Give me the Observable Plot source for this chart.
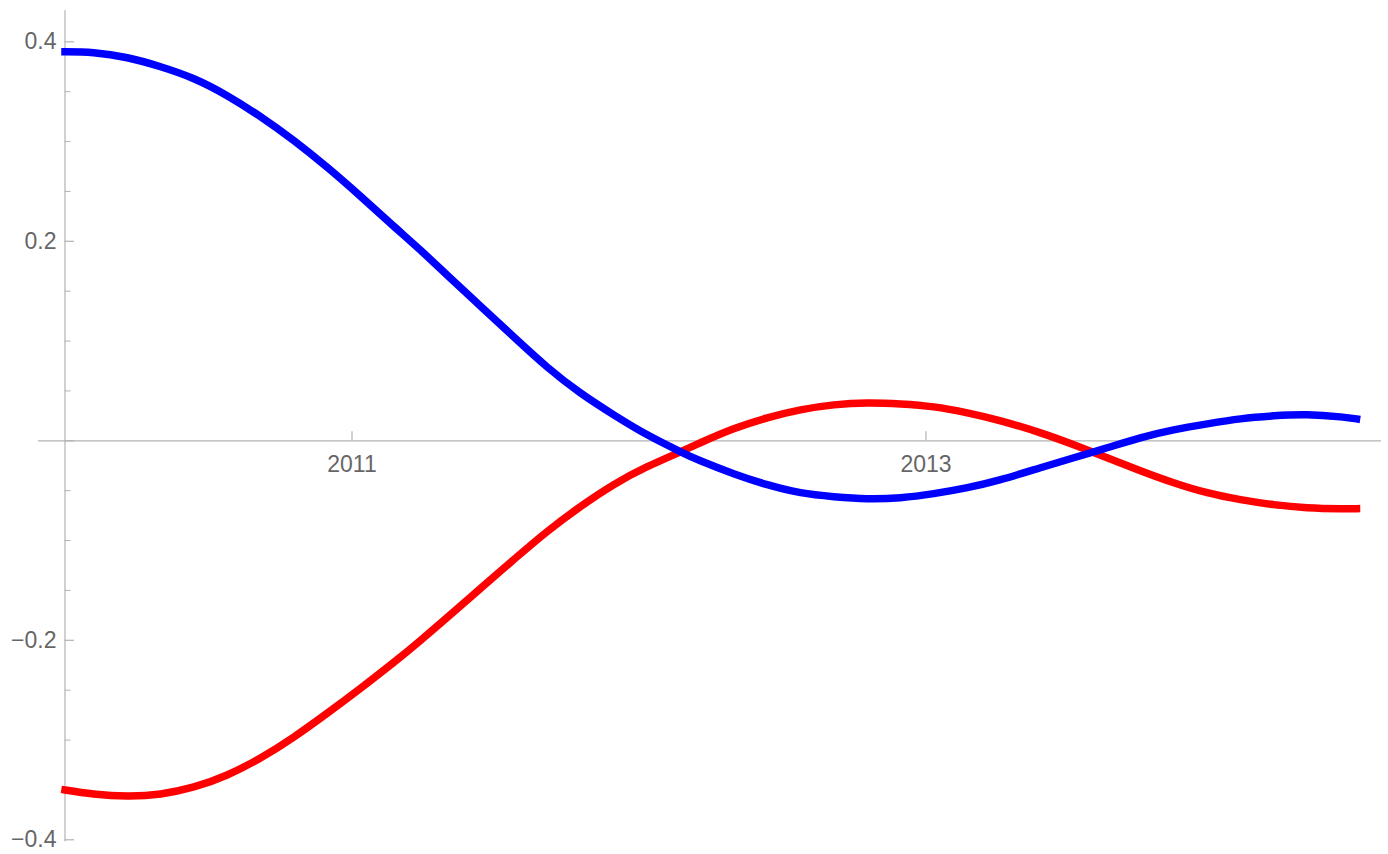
<!DOCTYPE html>
<html>
<head>
<meta charset="utf-8">
<script src="https://cdn.jsdelivr.net/npm/d3@7"></script>
<script src="https://cdn.jsdelivr.net/npm/@observablehq/plot@0.6"></script>
<style>
  html, body { margin: 0; padding: 0; background: #ffffff; }
  #chart svg { display: block; overflow: visible; }
</style>
</head>
<body>
<div id="chart"></div>
<script>
// ---- Data ----
const years = [2010, 2010.100, 2010.217, 2010.333, 2010.449, 2010.565, 2010.681, 2010.797, 2010.914,
  2011.030, 2011.146, 2011.239, 2011.332, 2011.448, 2011.564, 2011.680, 2011.796, 2011.912,
  2012.029, 2012.145, 2012.214, 2012.330, 2012.447, 2012.563, 2012.679, 2012.795, 2012.911,
  2013.027, 2013.144, 2013.260, 2013.399, 2013.515, 2013.631, 2013.747, 2013.863, 2013.980,
  2014.096, 2014.212, 2014.328, 2014.444, 2014.5];

const blueValues = [0.390, 0.389, 0.384, 0.375, 0.363, 0.346, 0.325, 0.301, 0.274,
  0.245, 0.215, 0.191, 0.166, 0.135, 0.104, 0.074, 0.048, 0.026,
  0.006, -0.011, -0.020, -0.033, -0.044, -0.052, -0.056, -0.058, -0.057,
  -0.053, -0.047, -0.039, -0.027, -0.017, -0.007, 0.003, 0.011, 0.017,
  0.022, 0.025, 0.026, 0.024, 0.022];

const redValues = [-0.350, -0.354, -0.356, -0.354, -0.347, -0.335, -0.318, -0.297, -0.273,
  -0.248, -0.222, -0.200, -0.177, -0.148, -0.119, -0.091, -0.066, -0.044,
  -0.026, -0.011, -0.002, 0.012, 0.023, 0.031, 0.036, 0.038, 0.037,
  0.034, 0.028, 0.020, 0.008, -0.004, -0.017, -0.030, -0.042, -0.052,
  -0.059, -0.064, -0.067, -0.068, -0.068];

const xTickValues = [2011, 2013];
const xTickLabels = ["2011", "2013"];
const yMajorTicks = [-0.4, -0.2, 0, 0.2, 0.4];
const yLabelTicks = [-0.4, -0.2, 0.2, 0.4];
const yLabelTexts = ["\u22120.4", "\u22120.2", "0.2", "0.4"];
const yMinorTicks = [-0.35, -0.3, -0.25, -0.15, -0.1, -0.05, 0.05, 0.1, 0.15, 0.25, 0.3, 0.35];

// ---- Layout ----
const W = 1388, H = 854;
const xDomain = [2010, 2014.5], xRange = [64.5, 1356];
const yDomain = [-0.4, 0.4], yRange = [839.3, 41.3];
const pxPerX = (xRange[1] - xRange[0]) / (xDomain[1] - xDomain[0]);
const pxPerY = (yRange[0] - yRange[1]) / (yDomain[1] - yDomain[0]);
const px2x = p => p / pxPerX;
const px2y = p => p / pxPerY;

const axisColor = "#b3b3b3";
const labelColor = "#666666";
const fontFamily = "'Liberation Sans', Arial, sans-serif";

const blue = years.map((x, i) => ({x, y: blueValues[i]}));
const red = years.map((x, i) => ({x, y: redValues[i]}));

const chart = Plot.plot({
  width: W,
  height: H,
  margin: 0,
  style: {background: "#ffffff", fontFamily, overflow: "visible"},
  x: {domain: xDomain, range: xRange, axis: null},
  y: {domain: yDomain, range: yRange, axis: null},
  marks: [
    // x axis line
    Plot.ruleY([0], {x1: xDomain[0] - px2x(26.5), x2: xDomain[1] + px2x(25), stroke: axisColor, strokeWidth: 1.2}),
    // y axis line
    Plot.ruleX([xDomain[0]], {y1: yDomain[0] - px2y(2), y2: yDomain[1] + px2y(31), stroke: axisColor, strokeWidth: 1.2}),
    // y major ticks
    Plot.ruleY(yMajorTicks, {x1: xDomain[0], x2: xDomain[0] + px2x(9.5), stroke: axisColor, strokeWidth: 1.2}),
    // y minor ticks
    Plot.ruleY(yMinorTicks, {x1: xDomain[0], x2: xDomain[0] + px2x(6), stroke: axisColor, strokeWidth: 1}),
    // x ticks
    Plot.ruleX(xTickValues, {y1: 0, y2: px2y(9), stroke: axisColor, strokeWidth: 1.2}),
    // y labels
    Plot.text(yLabelTicks, {x: xDomain[0], y: d => d, text: (d, i) => yLabelTexts[i], dx: -8.5, textAnchor: "end",
      fill: labelColor, fontSize: 23, fontFamily}),
    // x labels
    Plot.text(xTickValues, {x: d => d, y: 0, text: (d, i) => xTickLabels[i], dy: 24, textAnchor: "middle",
      fill: labelColor, fontSize: 23, fontFamily}),
    // curves
    Plot.line(red, {x: "x", y: "y", stroke: "#ff0000", strokeWidth: 7.5, curve: "natural", strokeLinecap: "square"}),
    Plot.line(blue, {x: "x", y: "y", stroke: "#0000ff", strokeWidth: 7.5, curve: "natural", strokeLinecap: "square"})
  ]
});

document.getElementById("chart").appendChild(chart);
</script>
</body>
</html>
